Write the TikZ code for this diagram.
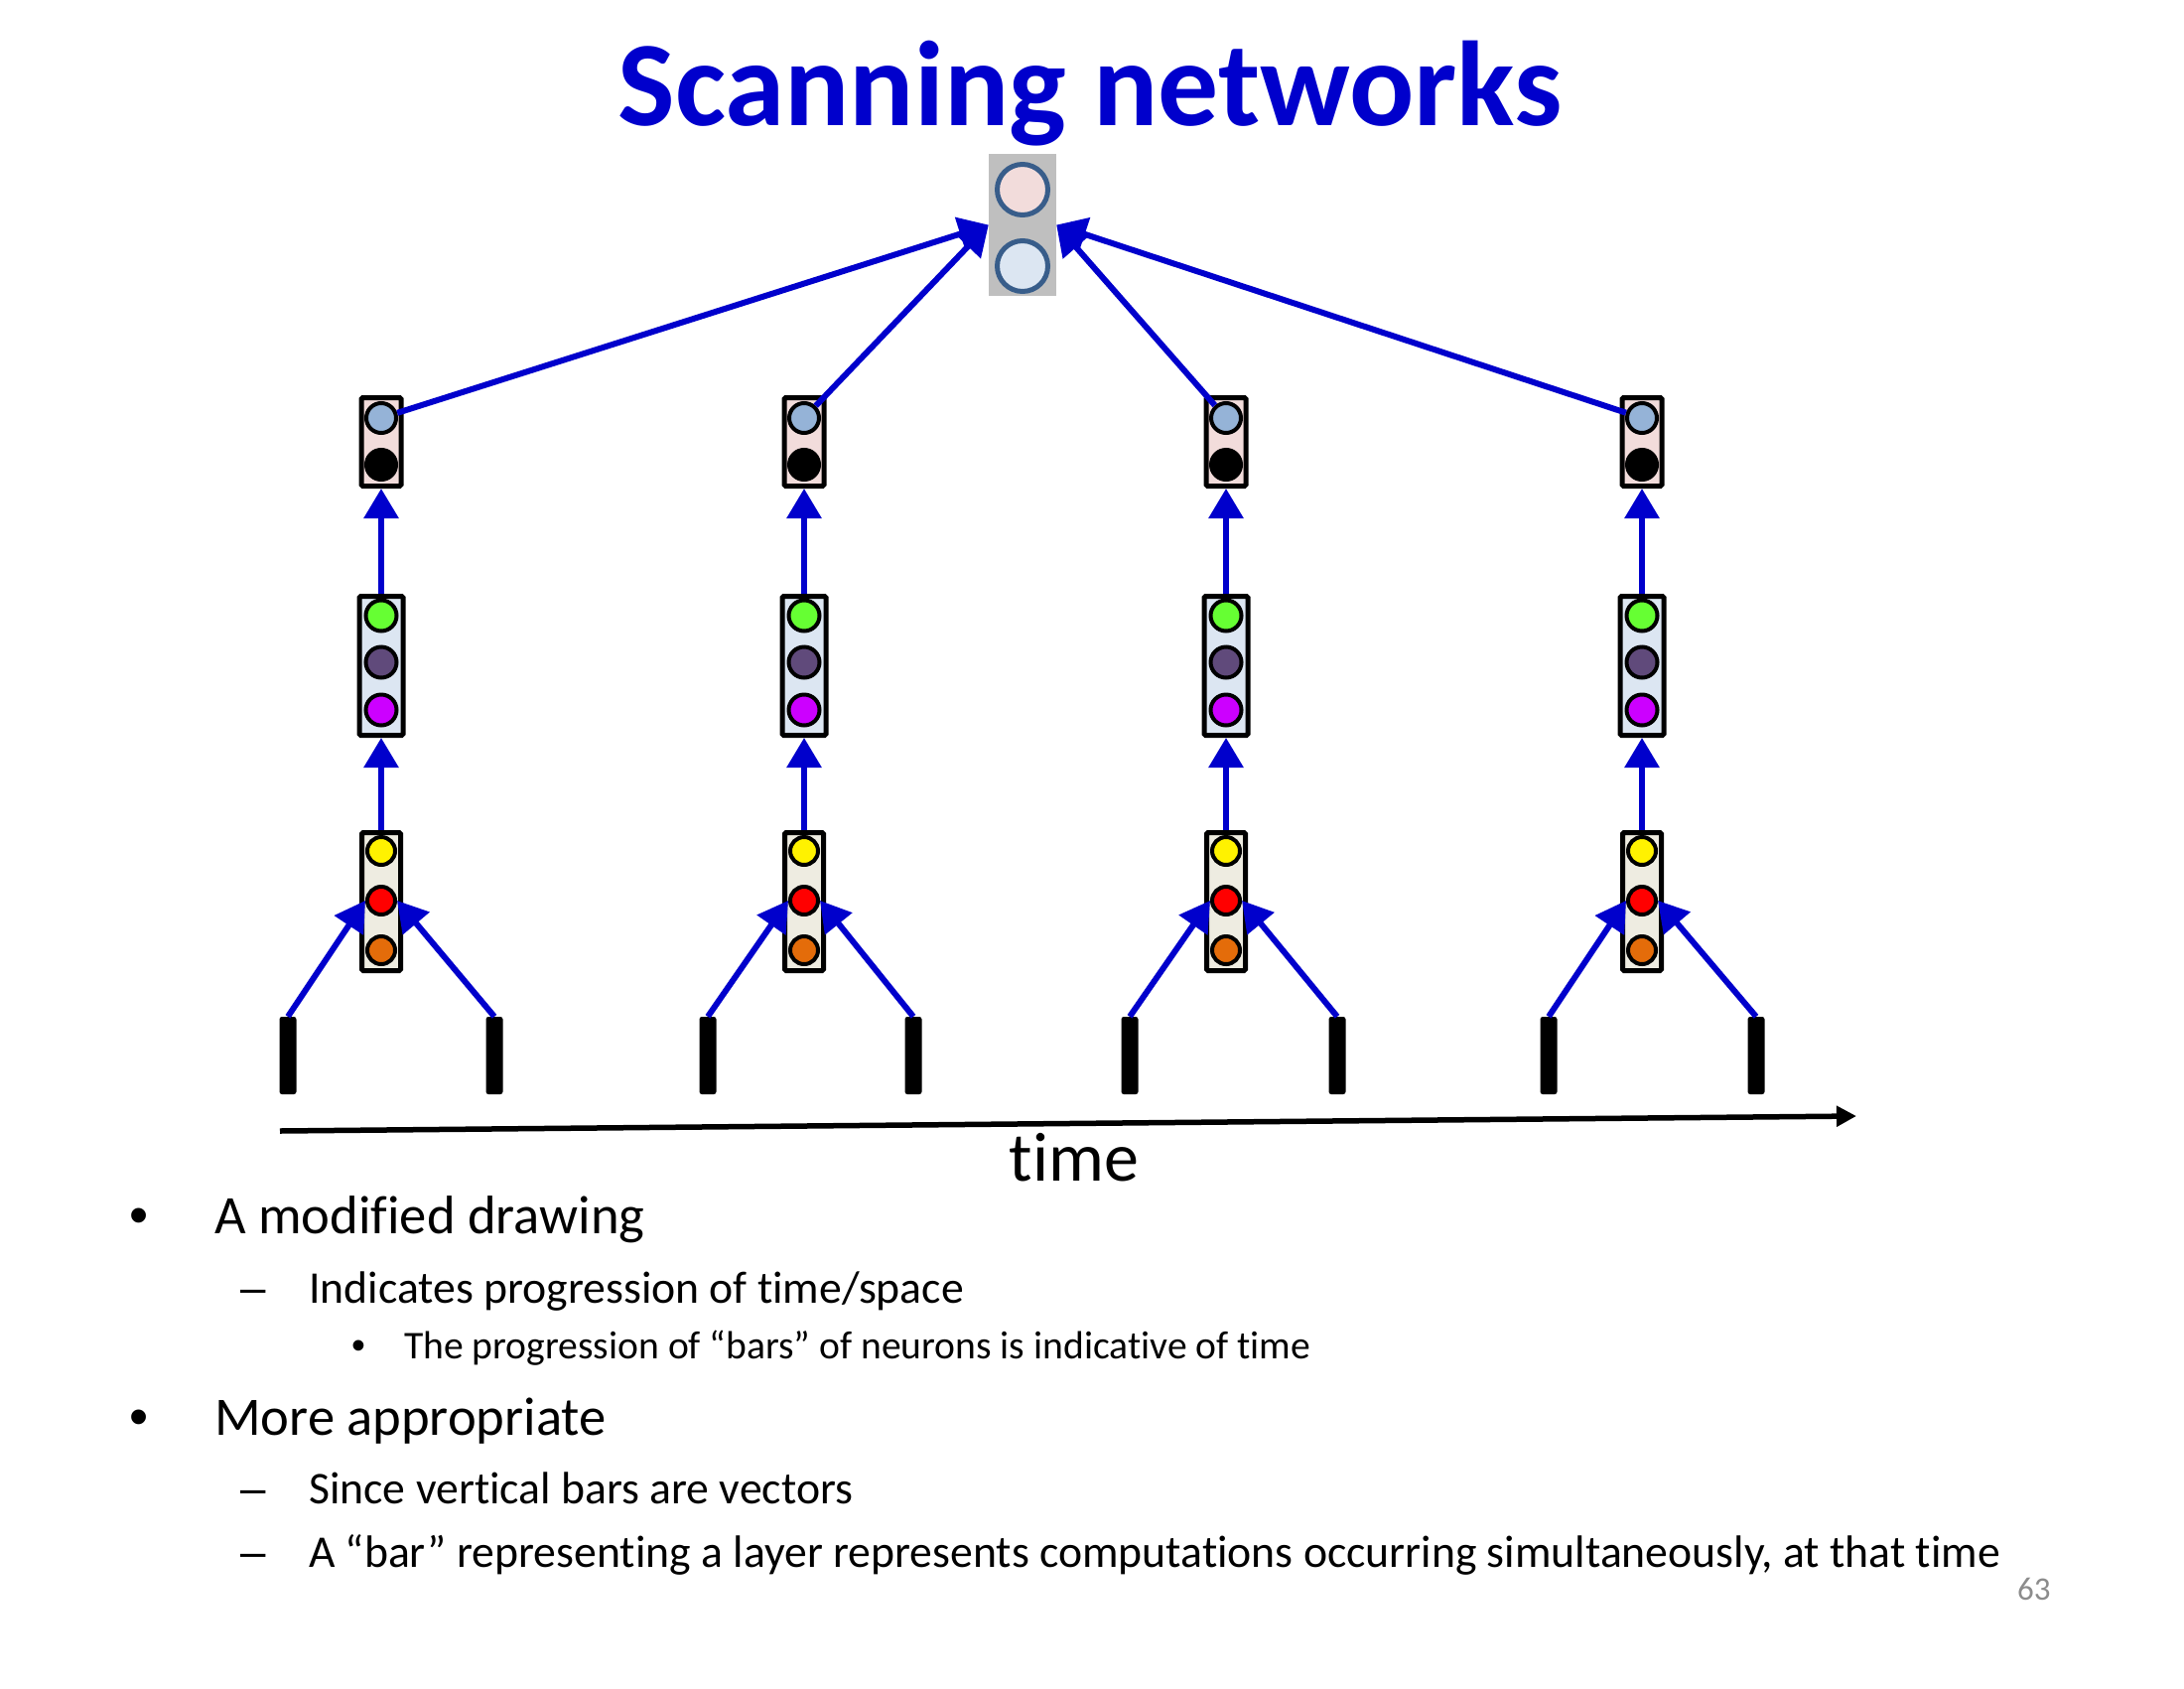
\documentclass[tikz,border=0pt]{standalone}
\usepackage{fontspec}
\setmainfont{Carlito}[Ligatures={NoCommon,NoRare,NoContextual}, Contextuals=NoAlternate, RawFeature={-liga;-clig;-dlig;-calt}]
\newfontfamily\markfont{Liberation Sans}
\usetikzlibrary{arrows.meta}
\definecolor{linkblue}{HTML}{0000CC}
\definecolor{slateedge}{HTML}{385D8A}
\definecolor{pinkfill}{HTML}{F2DCDB}
\definecolor{icefill}{HTML}{DCE6F2}
\definecolor{beigefill}{HTML}{EEECE1}
\definecolor{outgray}{HTML}{BFBFBF}
\definecolor{steelunit}{HTML}{95B3D7}
\definecolor{greenunit}{HTML}{66FF33}
\definecolor{plumunit}{HTML}{604A7B}
\definecolor{violetunit}{HTML}{CC00FF}
\definecolor{orangeunit}{HTML}{E46C0A}
\definecolor{pagegray}{HTML}{8C8C8C}

\begin{document}
\begin{tikzpicture}[x=1pt,y=-1pt,
  layerbox/.style={rectangle, draw=black, line width=5pt, inner sep=0pt, rounded corners=1.5pt},
  unitc/.style={circle, draw=black, line width=4pt, inner sep=0pt, minimum size=#1},
  outunit/.style={circle, draw=slateedge, line width=5pt, inner sep=0pt, minimum size=51pt},
  inbar/.style={rectangle, fill=black, minimum width=17pt, minimum height=78pt, inner sep=0pt, rounded corners=2.5pt},
  conn/.style={draw=linkblue, line width=6pt, -{Triangle[width=34pt,length=30pt]}},
  lvlone/.style={anchor=base west, inner sep=0pt, font=\fontsize{54.6pt}{60pt}\selectfont},
  lvltwo/.style={anchor=base west, inner sep=0pt, font=\fontsize{45.7pt}{52pt}\selectfont},
  lvlthree/.style={anchor=base west, inner sep=0pt, font=\fontsize{39.6pt}{44pt}\selectfont},
  mark1/.style={anchor=base, inner sep=0pt, font=\markfont\fontsize{54.6pt}{60pt}\selectfont},
  mark2/.style={anchor=base, inner sep=0pt, font=\markfont\fontsize{45.7pt}{52pt}\selectfont},
  mark3/.style={anchor=base, inner sep=0pt, font=\markfont\fontsize{39.6pt}{44pt}\selectfont},
]
\useasboundingbox[fill=white] (0,0) rectangle (2200,1700);

% title
\node[anchor=base, inner sep=0pt, text=linkblue, font=\fontsize{121.7pt}{130pt}\selectfont\bfseries]
  (title) at (1098,126) {Scanning networks};

% output layer
\node[rectangle, fill=outgray, minimum width=68pt, minimum height=143pt, inner sep=0pt] (outbox) at (1030,226.5) {};
\node[outunit, fill=pinkfill] (outA) at (1030,191) {};
\node[outunit, fill=icefill] (outB) at (1030,268) {};

% one column of bars per time step
\foreach \c/\x/\bl/\br in {1/384/290/498, 2/810/713/920, 3/1235/1138/1347, 4/1654/1560/1769}{
  % top layer
  \node[layerbox, fill=pinkfill, minimum width=40pt, minimum height=89pt] (top\c) at (\x,445) {};
  \node[unitc=30pt, fill=steelunit] (steel\c) at (\x,421) {};
  \node[unitc=30pt, fill=black] (dark\c) at (\x,468) {};
  % middle layer
  \node[layerbox, fill=icefill, minimum width=44pt, minimum height=140pt] (mid\c) at (\x,670.5) {};
  \node[unitc=31pt, fill=greenunit] (green\c) at (\x,620) {};
  \node[unitc=31pt, fill=plumunit] (plum\c) at (\x,667) {};
  \node[unitc=31pt, fill=violetunit] (violet\c) at (\x,715) {};
  % bottom layer
  \node[layerbox, fill=beigefill, minimum width=39pt, minimum height=139pt] (bot\c) at (\x,908) {};
  \node[unitc=28pt, fill=yellow] (yellow\c) at (\x,857) {};
  \node[unitc=28pt, fill=red] (red\c) at (\x,907) {};
  \node[unitc=28pt, fill=orangeunit] (orange\c) at (\x,957) {};
  % inputs
  \node[inbar] (inL\c) at (\bl,1063) {};
  \node[inbar] (inR\c) at (\br,1063) {};
  % connections
  \draw[conn] (inL\c.north) -- (red\c.west);
  \draw[conn] (inR\c.north) -- (red\c.east);
  \draw[conn] (bot\c.north) -- (mid\c.south);
  \draw[conn] (mid\c.north) -- (top\c.south);
}
\draw[conn] (steel1) -- (outbox.west);
\draw[conn] (steel2) -- (outbox.west);
\draw[conn] (steel3) -- (outbox.east);
\draw[conn] (steel4) -- (outbox.east);

% time axis
\coordinate (axL) at (282,1139);
\coordinate (axR) at (1870,1124);
\draw[line width=5.5pt, -{Triangle[width=20pt,length=20pt]}] (axL) -- (axR);
\node[anchor=base, inner sep=0pt, font=\fontsize{70pt}{76pt}\selectfont] (timelbl) at (1082,1189) {time};

% bullet list
\node[mark1] (b1) at (140,1242) {•};
\node[lvlone] (t1) at (216,1242) {A modified drawing};
\node[mark2] (d1) at (255,1312) {–};
\node[lvltwo] (t2) at (311,1312) {Indicates progression of time/space};
\node[mark3] (b2) at (361,1368) {•};
\node[lvlthree] (t3) at (407,1368) {The progression of “bars” of neurons is indicative of time};
\node[mark1] (b3) at (140,1445) {•};
\node[lvlone] (t4) at (216,1445) {More appropriate};
\node[mark2] (d2) at (255,1514) {–};
\node[lvltwo] (t5) at (311,1514) {Since vertical bars are vectors};
\node[mark2] (d3) at (255,1578) {–};
\node[lvltwo] (t6) at (311,1578) {A “bar” representing a layer represents computations occurring simultaneously, at that time};

% page number
\node[anchor=base west, inner sep=0pt, text=pagegray, font=\fontsize{33pt}{36pt}\selectfont] (pgno) at (2032,1611) {63};
\end{tikzpicture}
\end{document}
